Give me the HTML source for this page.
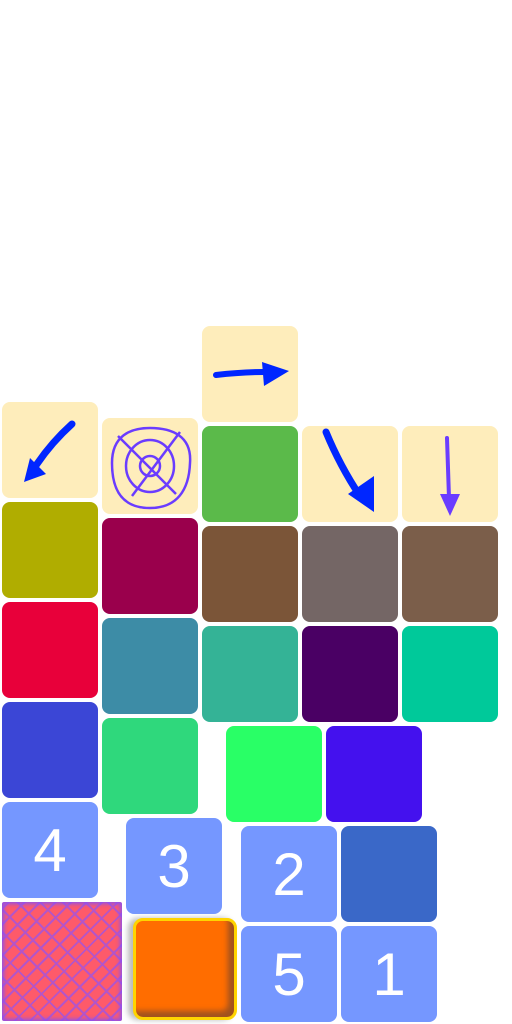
<!DOCTYPE html>
<html><head><meta charset="utf-8"><style>
body{margin:0;width:512px;height:1024px;background:#fff;position:relative;overflow:hidden;font-family:"Liberation Sans",sans-serif}
.t{position:absolute;width:96px;height:96px;border-radius:8px}
.c{background:#feedbb}
.n{background:#7597ff;color:#fff;font-size:60px;display:flex;align-items:center;justify-content:center}
svg{position:absolute;left:0;top:0}
</style></head><body>
<div class="t c" style="left:2px;top:402px"><svg width="96" height="96"><path d="M70 22 Q50 40 35 62 L28 72" stroke="#0026ff" stroke-width="7" fill="none" stroke-linecap="round"/><path d="M22 80 L28 56 L44 72 Z" fill="#0026ff"/></svg></div>
<div class="t" style="left:2px;top:502px;background:#b0ad00"></div>
<div class="t" style="left:2px;top:602px;background:#e8003a"></div>
<div class="t" style="left:2px;top:702px;background:#3b46d6"></div>
<div class="t n" style="left:2px;top:802px">4</div>
<div class="t" style="left:2px;top:902px;width:120px;height:119px;border-radius:2px;background:repeating-linear-gradient(45deg,transparent 0 14px,#b455c8 14px 16px),repeating-linear-gradient(-45deg,#fe5a6a 0 9px,#b455c8 9px 11px);box-shadow:inset 0 0 4px 2px #8c4ff0"></div>

<div class="t c" style="left:102px;top:418px"><svg width="96" height="96"><g stroke="#6a3cff" stroke-width="2.5" fill="none"><path d="M48 10 C70 10 90 18 88 45 C87 72 75 90 48 90 C20 90 10 72 10 45 C10 18 28 10 48 10Z"/><ellipse cx="48" cy="48" rx="24" ry="26"/><circle cx="48" cy="48" r="10"/><path d="M16 18 L74 76 M78 14 L30 78"/></g></svg></div>
<div class="t" style="left:102px;top:518px;background:#9a004c"></div>
<div class="t" style="left:102px;top:618px;background:#3d8ca6"></div>
<div class="t" style="left:102px;top:718px;background:#2fd87c"></div>
<div class="t n" style="left:126px;top:818px">3</div>
<div class="t" style="left:133px;top:918px;width:98px;height:96px;background:#ff6d00;border:3px solid #ffd400;border-radius:10px;box-shadow:inset -6px -6px 6px #a0521e,-5px 0 6px #bbb"></div>

<div class="t c" style="left:202px;top:326px"><svg width="96" height="96"><path d="M14 49 Q40 46 62 46" stroke="#0026ff" stroke-width="6" fill="none" stroke-linecap="round"/><path d="M60 36 L87 45 L62 60 Z" fill="#0026ff"/></svg></div>
<div class="t" style="left:202px;top:426px;background:#5bba4a"></div>
<div class="t" style="left:202px;top:526px;background:#7b5538"></div>
<div class="t" style="left:202px;top:626px;background:#34b396"></div>
<div class="t" style="left:226px;top:726px;background:#29ff66"></div>
<div class="t n" style="left:241px;top:826px">2</div>
<div class="t n" style="left:241px;top:926px">5</div>

<div class="t c" style="left:302px;top:426px"><svg width="96" height="96"><path d="M24 6 Q38 40 58 70" stroke="#0026ff" stroke-width="7" fill="none" stroke-linecap="round"/><path d="M46 68 L72 50 L72 86 Z" fill="#0026ff"/></svg></div>
<div class="t" style="left:302px;top:526px;background:#746665"></div>
<div class="t" style="left:302px;top:626px;background:#4a0064"></div>
<div class="t" style="left:326px;top:726px;background:#4411ee"></div>
<div class="t" style="left:341px;top:826px;background:#3a68c8"></div>
<div class="t n" style="left:341px;top:926px">1</div>

<div class="t c" style="left:402px;top:426px"><svg width="96" height="96"><path d="M45 12 L47 72" stroke="#6a3cff" stroke-width="4" fill="none" stroke-linecap="round"/><path d="M38 68 L58 68 L48 90 Z" fill="#6a3cff"/></svg></div>
<div class="t" style="left:402px;top:526px;background:#7b5e4a"></div>
<div class="t" style="left:402px;top:626px;background:#00c99a"></div>
</body></html>
